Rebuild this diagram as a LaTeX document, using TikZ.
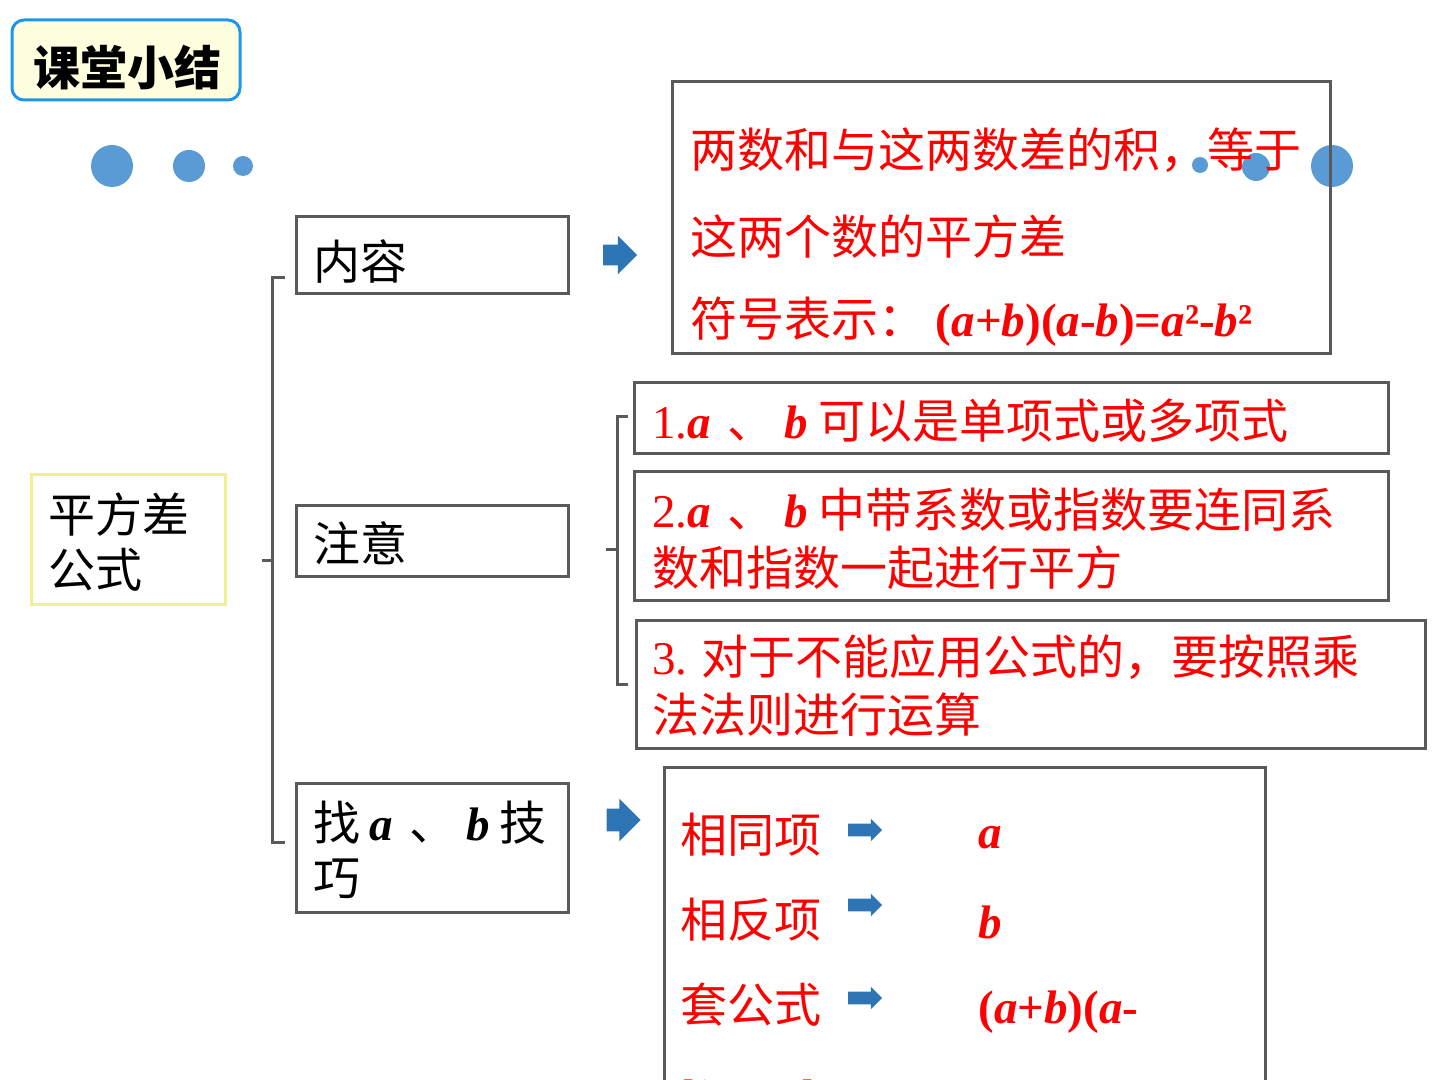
\documentclass[tikz,border=0pt]{standalone}
\usepackage{fontspec}
\setmainfont{Noto Sans CJK SC}
\newfontfamily\lat{Liberation Serif}
\usetikzlibrary{shapes.arrows,positioning}
\definecolor{boxgray}{HTML}{5A5A5A}
\definecolor{dotblue}{HTML}{5B9BD5}
\definecolor{arrblue}{HTML}{2E75B6}
\definecolor{titleblue}{HTML}{1E96F0}
\definecolor{titlefill}{HTML}{FFFFE0}
\definecolor{frmyellow}{HTML}{F2F28C}
\definecolor{txtred}{HTML}{FF0000}
\newcommand{\va}{{\lat\bfseries\itshape a}}
\newcommand{\vb}{{\lat\bfseries\itshape b}}
\newcommand{\lt}[1]{{\lat #1}}
\newcommand{\lb}[1]{{\lat\bfseries #1}}
\newcommand{\dun}{\hspace{0.35em}、\hspace{0.2em}}

\begin{document}
\begin{tikzpicture}[x=0.5pt,y=-0.5pt,
  gbox/.style={draw=boxgray, line width=1.5pt, inner sep=0pt},
  big/.style={font=\fontsize{23.5pt}{29pt}\selectfont},
  redtxt/.style={big, text=txtred, anchor=west, inner sep=0pt, align=left},
  blktxt/.style={big, anchor=west, inner sep=0pt, align=left},
  dot/.style={fill=dotblue, circle, inner sep=0pt},
  barrow/.style={single arrow, fill=arrblue, inner xsep=0pt, inner ysep=5pt,
    minimum height=17pt, single arrow head extend=4.5pt, single arrow head indent=0pt},
  sarrow/.style={single arrow, fill=arrblue, inner xsep=0pt, inner ysep=3pt,
    minimum height=17pt, single arrow head extend=2.5pt},
  brk/.style={draw=boxgray, line width=1.5pt}]
\clip (0,0) rectangle (1440,1080);
% title
\node[draw=titleblue, line width=1.5pt, fill=titlefill, rounded corners=6pt,
  minimum width=114pt, minimum height=40pt] (title) at (126,60) {};
\node[font=\fontsize{23.5pt}{29pt}\selectfont\bfseries, inner sep=0pt] (titlet) at (127,68) {课堂小结};
% dots
\node[dot, minimum size=21pt] (d1) at (112,166) {};
\node[dot, minimum size=16pt] (d2) at (189,166) {};
\node[dot, minimum size=10pt] (d3) at (243,166) {};
\node[dot, minimum size=8pt] (d4) at (1200,165) {};
\node[dot, minimum size=14pt] (d5) at (1256,167) {};
\node[dot, minimum size=21pt] (d6) at (1332,166) {};
% left formula box
\node[draw=frmyellow, line width=1.5pt, minimum width=97pt, minimum height=65pt] (frm) at (128,539) {};
\node[blktxt, font=\fontsize{23.5pt}{27.5pt}\selectfont] (frmt) at (48,542) {平方差\\公式};
% main boxes
\node[gbox, minimum width=136pt, minimum height=38.5pt] (nr) at (432,255.5) {};
\node[gbox, minimum width=136pt, minimum height=35.5pt] (zy) at (432,540.5) {};
\node[gbox, minimum width=136pt, minimum height=64.5pt] (jq) at (432,847.5) {};
\node[blktxt] (nrt) at (313,262) {内容};
\node[blktxt] (zyt) at (313,543) {注意};
\node[blktxt, font=\fontsize{23.5pt}{27.5pt}\selectfont] (jqt) at (313,850) {找\hspace{0.2em}\va\dun\vb\hspace{0.2em}技\\巧};
% big bracket
\coordinate (b1a) at (285,278);
\coordinate (b1b) at (285,842);
\coordinate (b1m) at (262,560);
\draw[brk] (b1a) -- (272,278) -- (272,842) -- (b1b);
\draw[brk] (b1m) -- (272,560);
% arrows
\node[barrow] (ar1) at (615,255) {};
\node[barrow, inner ysep=5.5pt, single arrow head extend=5pt] (ar2) at (618,820) {};
% content box
\node[gbox, minimum width=329pt, minimum height=136pt] (ct) at (1001,218) {};
\node[redtxt] (ct1) at (690,150) {两数和与这两数差的积，等于};
\node[redtxt] (ct2) at (690,237) {这两个数的平方差};
\node[redtxt] (ct3) at (690,322) {符号表示： \lb{(}\va\lb{+}\vb\lb{)(}\va\lb{-}\vb\lb{)=}\va\lb{²-}\vb\lb{²}};
% notes bracket
\coordinate (b2a) at (628,417);
\coordinate (b2b) at (628,684);
\coordinate (b2m) at (606,549);
\draw[brk] (b2a) -- (617,417) -- (617,684) -- (b2b);
\draw[brk] (b2m) -- (617,549);
% notes
\node[gbox, minimum width=377pt, minimum height=35.5pt] (n1) at (1011,418.5) {};
\node[gbox, minimum width=377pt, minimum height=64.5pt] (n2) at (1011,535.5) {};
\node[gbox, minimum width=394.5pt, minimum height=64pt] (n3) at (1030.5,684) {};
\node[redtxt] (n1t) at (652,421) {\lt{1.}\va\dun\vb\ 可以是单项式或多项式};
\node[redtxt] (n2t) at (652,539) {\lt{2.}\va\dun\vb\ 中带系数或指数要连同系\\数和指数一起进行平方};
\node[redtxt] (n3t) at (652,686) {\lt{3.} 对于不能应用公式的，要按照乘\\法法则进行运算};
% skill box
\node[gbox, minimum width=300.5pt, minimum height=183pt] (sk) at (964.5,950) {};
\node[redtxt] (sk1) at (680,835) {相同项};
\node[redtxt] (sk2) at (680,920) {相反项};
\node[redtxt] (sk3) at (680,1005) {套公式};
\node[sarrow] (sa1) at (862,830) {};
\node[sarrow] (sa2) at (862,905) {};
\node[sarrow] (sa3) at (862,998) {};
\node[redtxt] (sv1) at (978,838) {\va};
\node[redtxt] (sv2) at (978,922) {\vb};
\node[redtxt] (sv3) at (978,1012) {\lb{(}\va\lb{+}\vb\lb{)(}\va\lb{-}};
\node[redtxt, anchor=base west] (sv4) at (680,1112) {\vb\lb{)=}\va\lb{²-}\vb\lb{²}};
\end{tikzpicture}
\end{document}
